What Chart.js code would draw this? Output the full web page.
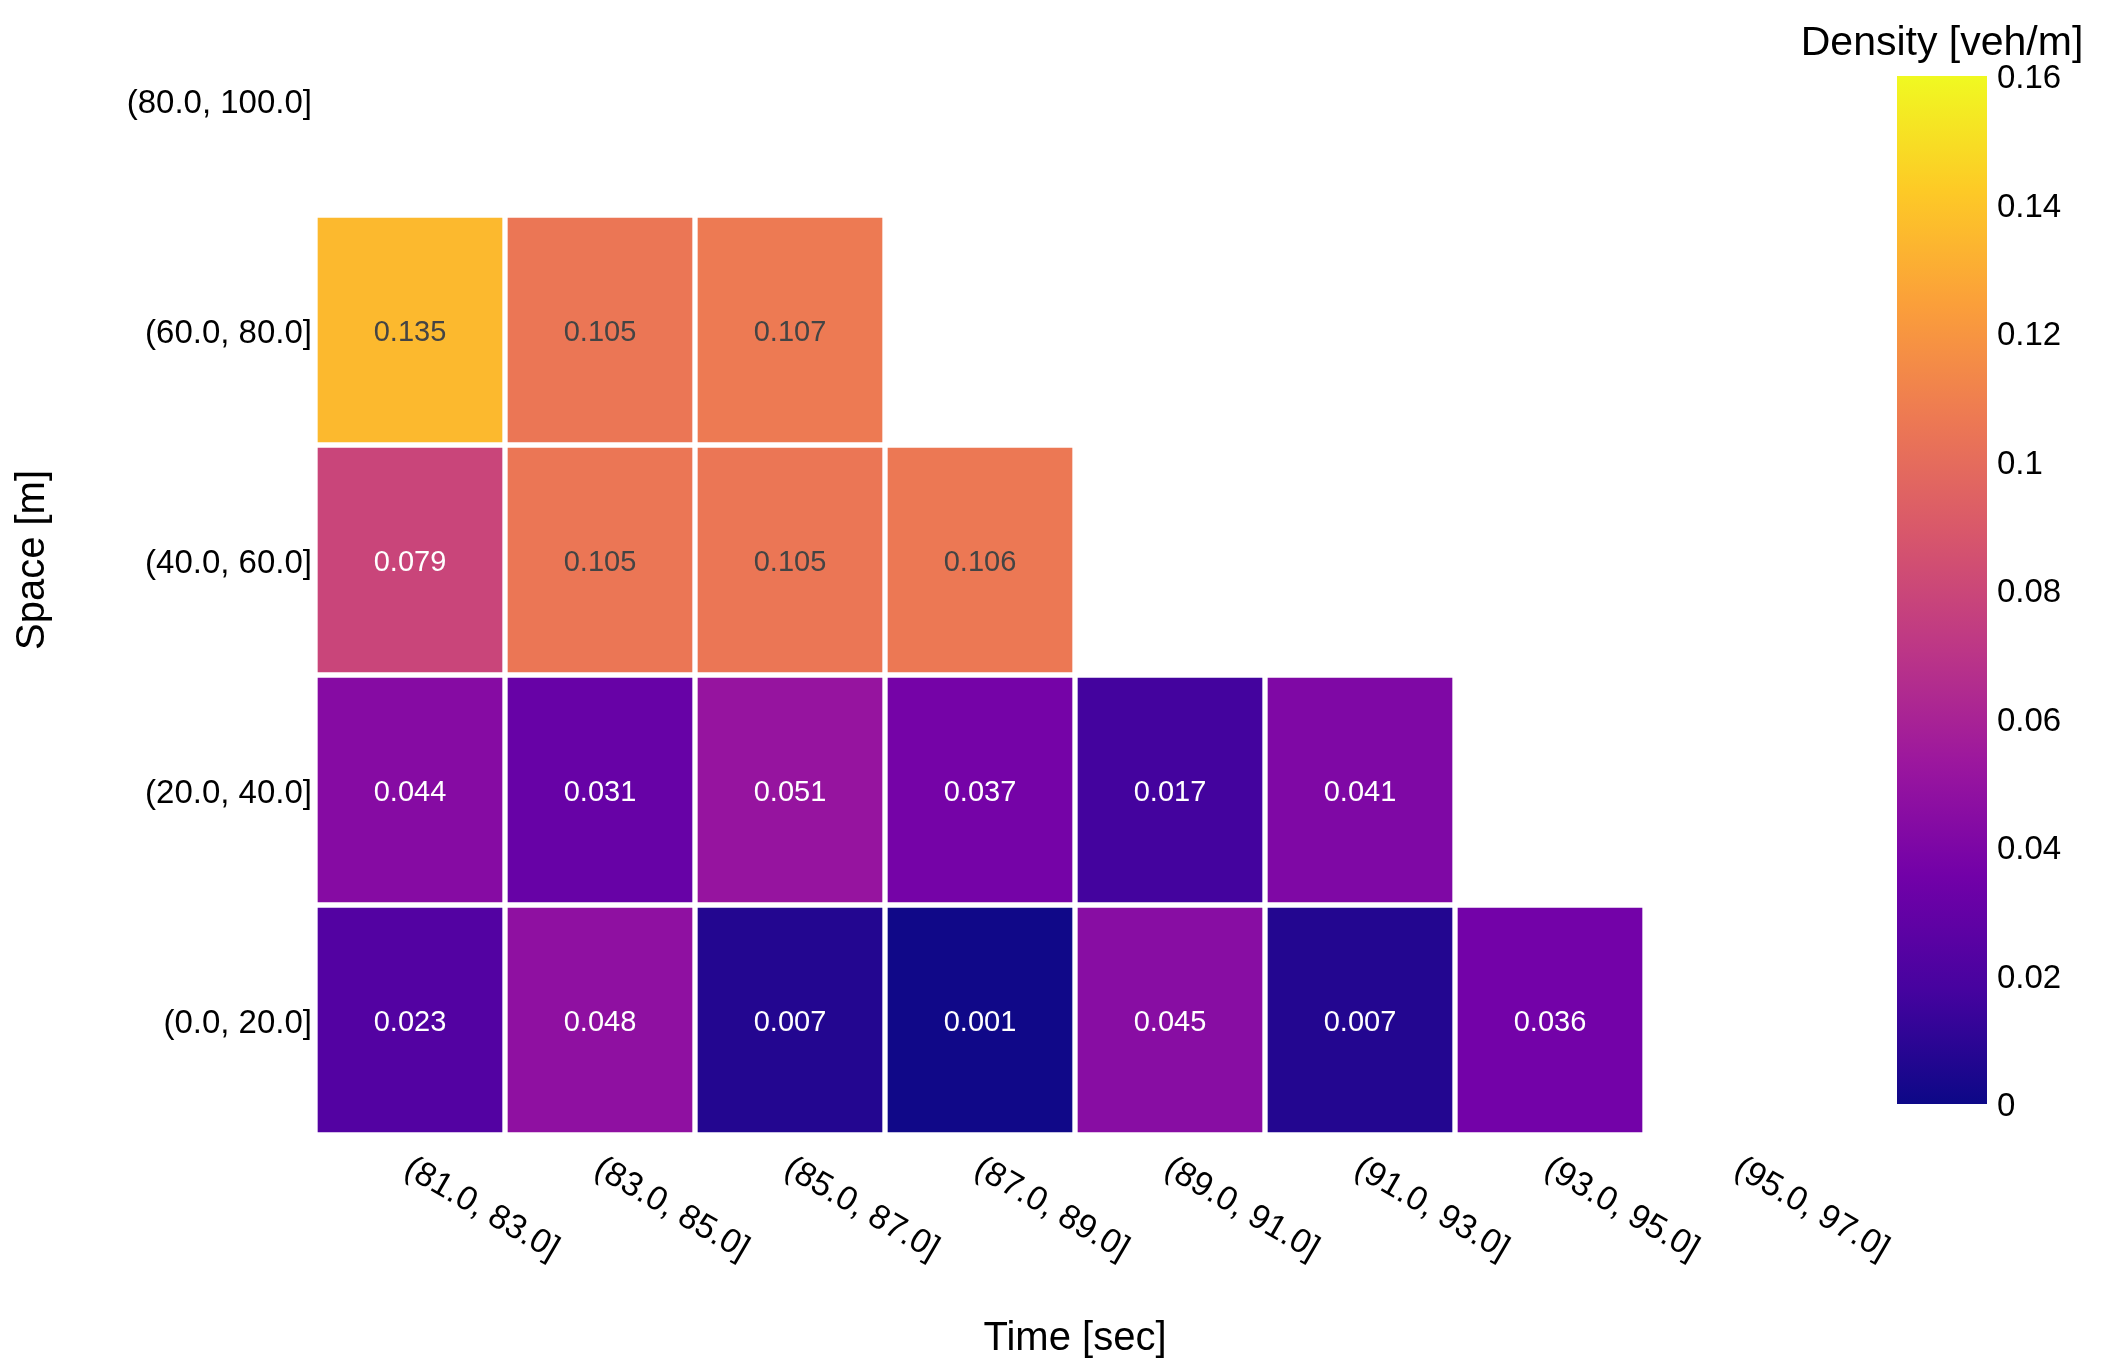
<!DOCTYPE html>
<html lang="en">
<head>
    <meta charset="UTF-8">
    <title>Density heatmap</title>
    <script src="https://cdn.jsdelivr.net/npm/chart.js@4.4.1/dist/chart.umd.min.js"></script>
    <style>
        html, body {
            margin: 0;
            padding: 0;
            background: #ffffff;
            overflow: hidden;
        }

        body {
            width: 2103px;
            height: 1360px;
            position: relative;
        }

        #heatmap {
            position: absolute;
            left: 0;
            top: -15px;
        }

        #colorbar {
            position: absolute;
            left: 1780px;
            top: 0;
        }
    </style>
</head>
<body>
    <canvas id="heatmap" width="2103" height="1375"></canvas>
    <canvas id="colorbar" width="323" height="1140"></canvas>

    <script>
        // Bins
        const timeBins = ['(81.0, 83.0]', '(83.0, 85.0]', '(85.0, 87.0]', '(87.0, 89.0]',
                          '(89.0, 91.0]', '(91.0, 93.0]', '(93.0, 95.0]', '(95.0, 97.0]'];
        const spaceBins = ['(0.0, 20.0]', '(20.0, 40.0]', '(40.0, 60.0]', '(60.0, 80.0]', '(80.0, 100.0]'];

        // Density [veh/m] per space bin, one value per time bin
        const density0to20   = [0.023, 0.048, 0.007, 0.001, 0.045, 0.007, 0.036, null];
        const density20to40  = [0.044, 0.031, 0.051, 0.037, 0.017, 0.041, null, null];
        const density40to60  = [0.079, 0.105, 0.105, 0.106, null, null, null, null];
        const density60to80  = [0.135, 0.105, 0.107, null, null, null, null, null];
        const density80to100 = [null, null, null, null, null, null, null, null];
        const densityRows = [density0to20, density20to40, density40to60, density60to80, density80to100];

        // Colour scale range and ticks
        const densityMin = 0;
        const densityMax = 0.16;
        const densityStep = 0.02;

        // Plasma colour scale
        const plasma = ['#0d0887', '#46039f', '#7201a8', '#9c179e', '#bd3786',
                        '#d8576b', '#ed7953', '#fb9f3a', '#fdca26', '#f0f921'];

        const FONT = "'Liberation Sans', Arial, Helvetica, sans-serif";
        Chart.defaults.font.family = FONT;
        Chart.defaults.color = '#000000';

        function hexToRgb(hex) {
            const n = parseInt(hex.slice(1), 16);
            return [(n >> 16) & 255, (n >> 8) & 255, n & 255];
        }

        function plasmaRgb(v) {
            let t = (v - densityMin) / (densityMax - densityMin);
            t = Math.max(0, Math.min(1, t));
            const pos = t * (plasma.length - 1);
            const i = Math.min(Math.floor(pos), plasma.length - 2);
            const f = pos - i;
            const a = hexToRgb(plasma[i]);
            const b = hexToRgb(plasma[i + 1]);
            return a.map((c, k) => Math.round(c + (b[k] - c) * f));
        }

        function plasmaColor(v) {
            const [r, g, b] = plasmaRgb(v);
            return `rgb(${r}, ${g}, ${b})`;
        }

        function textColorFor(v) {
            const [r, g, b] = plasmaRgb(v);
            return (0.299 * r + 0.587 * g + 0.114 * b) > 128 ? '#444444' : '#ffffff';
        }

        // One floating-bar dataset per space bin
        const datasets = densityRows.map((row, r) => ({
            label: spaceBins[r],
            data: row.map(v => v === null ? null : [r - 0.5, r + 0.5]),
            values: row,
            backgroundColor: row.map(v => v === null ? 'rgba(0,0,0,0)' : plasmaColor(v)),
            borderColor: '#ffffff',
            borderWidth: 3,
            borderSkipped: false,
            barPercentage: 1,
            categoryPercentage: 1
        }));

        // Cell annotations
        const cellLabels = {
            id: 'cellLabels',
            afterDatasetsDraw(chart) {
                const ctx = chart.ctx;
                ctx.save();
                ctx.font = `29px ${FONT}`;
                ctx.textAlign = 'center';
                ctx.textBaseline = 'middle';
                chart.data.datasets.forEach((ds, di) => {
                    const meta = chart.getDatasetMeta(di);
                    meta.data.forEach((bar, i) => {
                        const v = ds.values[i];
                        if (v === null) return;
                        ctx.fillStyle = textColorFor(v);
                        ctx.fillText(v.toFixed(3), bar.x, (bar.y + bar.base) / 2 + 3);
                    });
                });
                ctx.restore();
            }
        };

        // Time labels rotated clockwise, starting at each tick
        const timeTickLabels = {
            id: 'timeTickLabels',
            afterDraw(chart) {
                const ctx = chart.ctx;
                const xs = chart.scales.x;
                ctx.save();
                ctx.font = `34px ${FONT}`;
                ctx.fillStyle = '#000000';
                ctx.textAlign = 'left';
                ctx.textBaseline = 'middle';
                timeBins.forEach((label, i) => {
                    ctx.save();
                    ctx.translate(xs.getPixelForValue(i) - 3, chart.chartArea.bottom + 31);
                    ctx.rotate(Math.PI / 6);
                    ctx.fillText(label, 0, 0);
                    ctx.restore();
                });
                ctx.restore();
            }
        };

        new Chart(document.getElementById('heatmap'), {
            type: 'bar',
            data: {
                labels: timeBins,
                datasets: datasets
            },
            plugins: [cellLabels, timeTickLabels],
            options: {
                responsive: false,
                devicePixelRatio: 1,
                animation: false,
                grouped: false,
                layout: {
                    padding: { left: 0, right: 268, top: 0, bottom: 0 }
                },
                plugins: {
                    legend: { display: false },
                    tooltip: { enabled: false }
                },
                scales: {
                    x: {
                        grid: { display: false, drawTicks: false },
                        border: { display: false },
                        ticks: { display: false },
                        title: {
                            display: true,
                            text: 'Time [sec]',
                            font: { size: 40, lineHeight: 1.05 },
                            padding: { top: 0, bottom: 0 }
                        },
                        afterFit(scale) { scale.height = 225; }
                    },
                    y: {
                        min: -0.5,
                        max: 4.5,
                        grid: { display: false, drawTicks: false },
                        border: { display: false },
                        afterBuildTicks(scale) {
                            scale.ticks = spaceBins.map((_, i) => ({ value: i }));
                        },
                        ticks: {
                            autoSkip: false,
                            padding: 3,
                            labelOffset: 4,
                            font: { size: 33 },
                            callback: v => spaceBins[v]
                        },
                        title: {
                            display: true,
                            text: 'Space [m]',
                            font: { size: 40 },
                            padding: { top: 9, bottom: 0 }
                        },
                        afterFit(scale) {
                            scale.width = 315;
                            scale.paddingTop = 0;
                            scale.paddingBottom = 0;
                        }
                    }
                }
            }
        });

        // Colour bar
        const colorbarTitle = {
            id: 'colorbarTitle',
            afterDraw(chart) {
                const ctx = chart.ctx;
                const a = chart.chartArea;
                ctx.save();
                ctx.font = `41px ${FONT}`;
                ctx.fillStyle = '#000000';
                ctx.textAlign = 'center';
                ctx.textBaseline = 'alphabetic';
                ctx.fillText('Density [veh/m]', (a.left + a.right) / 2, 55);
                ctx.restore();
            }
        };

        new Chart(document.getElementById('colorbar'), {
            type: 'bar',
            data: {
                labels: [''],
                datasets: [{
                    data: [[densityMin, densityMax]],
                    backgroundColor(context) {
                        const a = context.chart.chartArea;
                        if (!a) return plasma[0];
                        const g = context.chart.ctx.createLinearGradient(0, a.bottom, 0, a.top);
                        plasma.forEach((c, i) => g.addColorStop(i / (plasma.length - 1), c));
                        return g;
                    },
                    borderWidth: 0,
                    barPercentage: 1,
                    categoryPercentage: 1
                }]
            },
            plugins: [colorbarTitle],
            options: {
                responsive: false,
                devicePixelRatio: 1,
                animation: false,
                layout: {
                    padding: { left: 117, right: 0, top: 76, bottom: 36 }
                },
                plugins: {
                    legend: { display: false },
                    tooltip: { enabled: false }
                },
                scales: {
                    x: { display: false },
                    y: {
                        position: 'right',
                        min: densityMin,
                        max: densityMax,
                        grid: { display: false, drawTicks: false },
                        border: { display: false },
                        ticks: {
                            stepSize: densityStep,
                            padding: 10,
                            labelOffset: 3,
                            font: { size: 33 },
                            callback: v => String(+v.toFixed(2))
                        },
                        afterFit(scale) {
                            scale.width = 116;
                            scale.paddingTop = 0;
                            scale.paddingBottom = 0;
                        }
                    }
                }
            }
        });
    </script>
</body>
</html>
